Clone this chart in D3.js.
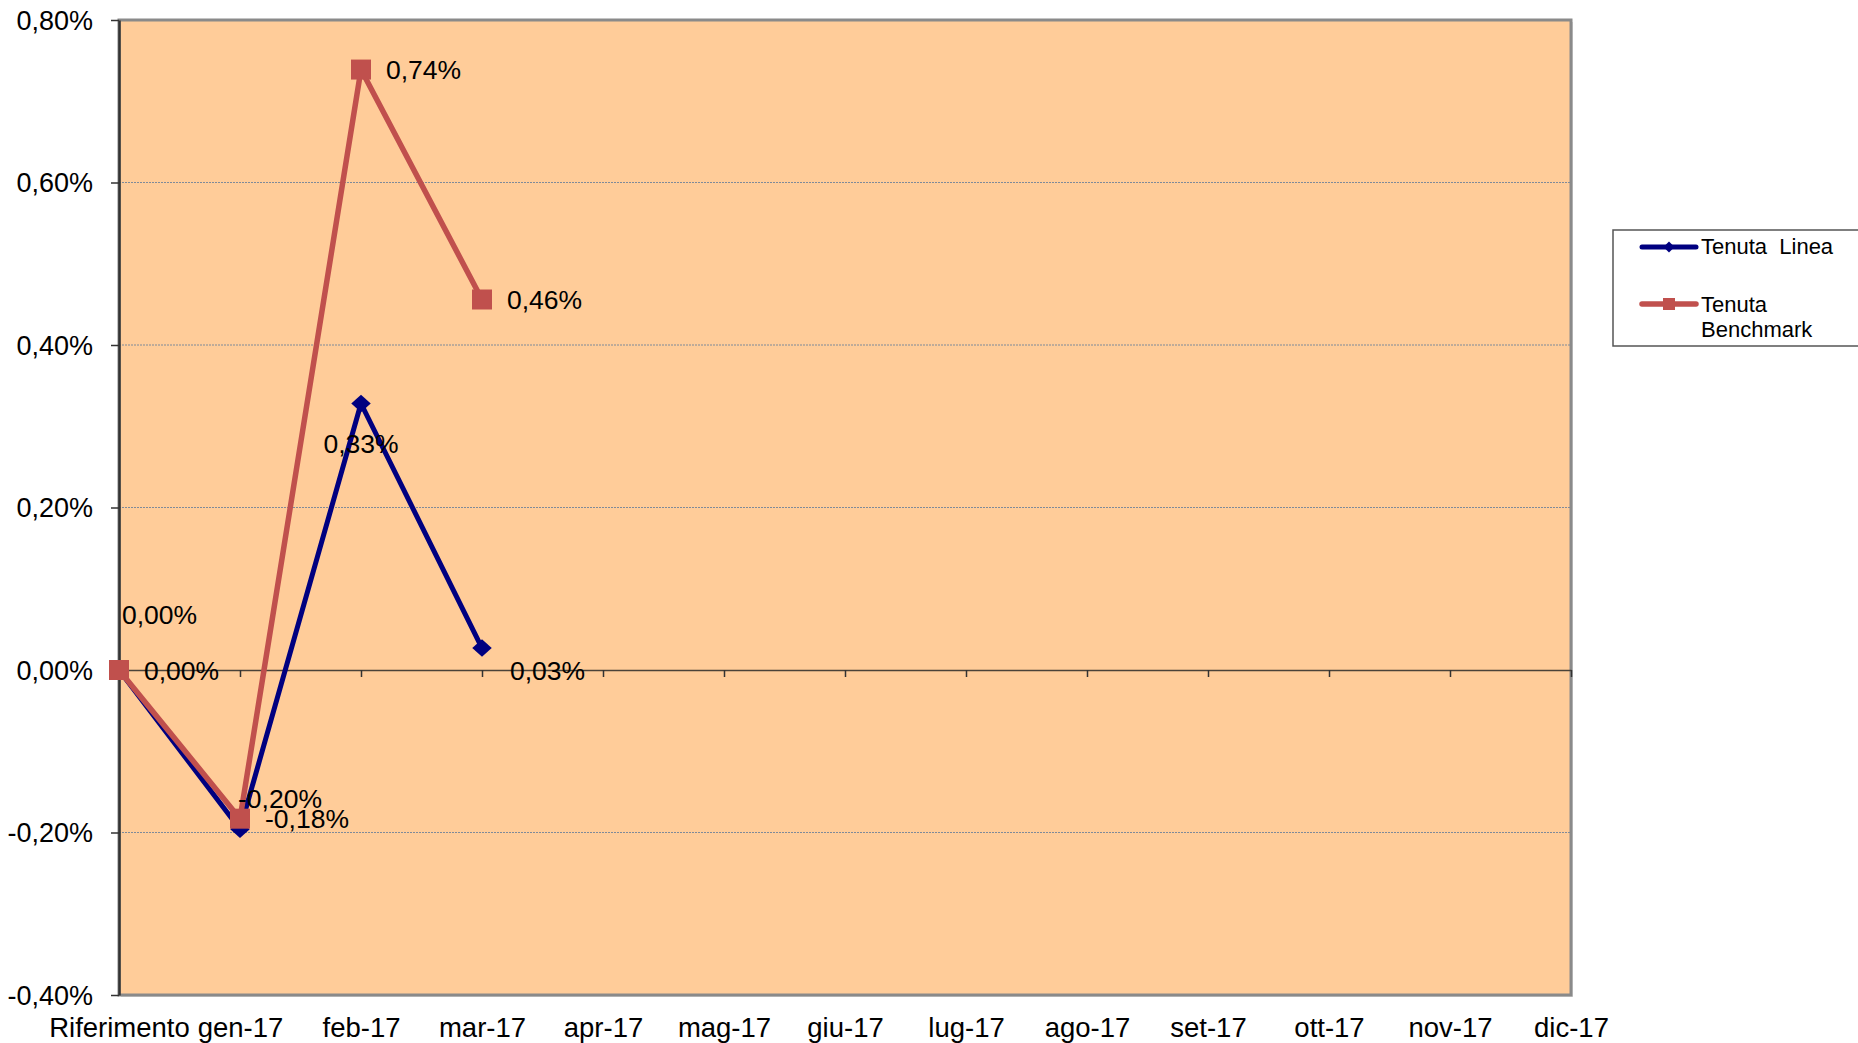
<!DOCTYPE html>
<html>
<head>
<meta charset="utf-8">
<script src="https://cdn.jsdelivr.net/npm/d3@7"></script>
<style>
  html, body { margin: 0; padding: 0; background: #ffffff; }
  svg { display: block; }
  text { font-family: "Liberation Sans", Arial, sans-serif; fill: #000; }
</style>
</head>
<body>
<svg id="chart" width="1858" height="1043"></svg>
<script>
// ---- data ----
const categories = ["Riferimento", "gen-17", "feb-17", "mar-17", "apr-17", "mag-17", "giu-17",
                    "lug-17", "ago-17", "set-17", "ott-17", "nov-17", "dic-17"];
const lineaName = "Tenuta  Linea";
const benchName = ["Tenuta", "Benchmark"];
const lineaValues = [0.000, -0.196, 0.328, 0.027];
const benchValues = [0.000, -0.183, 0.739, 0.456];
const yTicks = [-0.4, -0.2, 0.0, 0.2, 0.4, 0.6, 0.8];

// ---- label placement (style, not data) ----
const lineaLabelPos = [
  { dx: 3, dy: -56, anchor: "start" },
  { dx: -2, dy: -31, anchor: "start" },
  { dx: 0, dy: 40, anchor: "middle" },
  { dx: 28, dy: 22, anchor: "start" }
];
const benchLabelPos = { dx: 25, dy: 0, anchor: "start" };

const fmt = v => v.toFixed(2).replace(".", ",") + "%";

const svg = d3.select("#chart");
const pLeft = 119, pRight = 1571, pTop = 20, pBottom = 995;

const x = d3.scalePoint().domain(categories).range([pLeft, pRight]);
const y = d3.scaleLinear().domain([-0.4, 0.8]).range([pBottom, pTop]);

// plot background & frame
svg.append("rect")
  .attr("x", pLeft + 2).attr("y", pTop + 2)
  .attr("width", pRight - pLeft).attr("height", pBottom - pTop)
  .attr("fill", "#d9d9d9");
svg.append("rect")
  .attr("x", pLeft).attr("y", pTop)
  .attr("width", pRight - pLeft).attr("height", pBottom - pTop)
  .attr("fill", "#FFCC99")
  .attr("stroke", "#8a8a8a").attr("stroke-width", 3);

// gridlines
svg.append("g").selectAll("line")
  .data(yTicks.filter(t => t !== 0 && t !== 0.8 && t !== -0.4))
  .join("line")
  .attr("x1", pLeft).attr("x2", pRight)
  .attr("y1", d => y(d)).attr("y2", d => y(d))
  .attr("stroke", "#7f8a99").attr("stroke-width", 1)
  .attr("stroke-dasharray", "2,1");

// y axis
const yAxis = svg.append("g")
  .attr("transform", `translate(${pLeft},0)`)
  .call(d3.axisLeft(y).tickValues(yTicks).tickSize(8).tickSizeOuter(0).tickPadding(18).tickFormat(fmt));
yAxis.select(".domain").attr("stroke", "#333").attr("stroke-width", 2.5);
yAxis.selectAll(".tick line").attr("stroke", "#333").attr("stroke-width", 1.5);
yAxis.selectAll(".tick text")
  .attr("font-size", 27).attr("font-family", "Liberation Sans, Arial, sans-serif")
  .attr("fill", "#000").attr("dy", "0.35em");

// x axis ticks on the zero line
const xZero = svg.append("g")
  .attr("transform", `translate(0,${y(0)})`)
  .call(d3.axisBottom(x).tickSize(7).tickSizeOuter(0).tickFormat(""));
xZero.select(".domain").attr("stroke", "#4a4238").attr("stroke-width", 1.5);
xZero.selectAll(".tick line").attr("stroke", "#333").attr("stroke-width", 1.5);

// x axis labels at bottom
const xLab = svg.append("g")
  .attr("transform", `translate(0,${pBottom})`)
  .call(d3.axisBottom(x).tickSize(0).tickPadding(22).tickSizeOuter(0));
xLab.select(".domain").remove();
xLab.selectAll(".tick text")
  .attr("font-size", 27.5).attr("font-family", "Liberation Sans, Arial, sans-serif")
  .attr("fill", "#000");

// lines
const line = d3.line().x((d, i) => x(categories[i])).y(d => y(d));

svg.append("path").datum(lineaValues)
  .attr("d", line).attr("fill", "none")
  .attr("stroke", "#000080").attr("stroke-width", 5).attr("stroke-linejoin", "round");

svg.append("g").selectAll("path")
  .data(lineaValues).join("path")
  .attr("d", d3.symbol(d3.symbolSquare, 190))
  .attr("transform", (d, i) => `translate(${x(categories[i])},${y(d)}) scale(1,0.9) rotate(45)`)
  .attr("fill", "#000080");

svg.append("path").datum(benchValues)
  .attr("d", line).attr("fill", "none")
  .attr("stroke", "#C0504D").attr("stroke-width", 5.5).attr("stroke-linejoin", "round");

svg.append("g").selectAll("path")
  .data(benchValues).join("path")
  .attr("d", d3.symbol(d3.symbolSquare, 400))
  .attr("transform", (d, i) => `translate(${x(categories[i])},${y(d)})`)
  .attr("fill", "#C0504D");

// data labels
svg.append("g").selectAll("text")
  .data(lineaValues).join("text")
  .attr("x", (d, i) => x(categories[i]) + lineaLabelPos[i].dx)
  .attr("y", (d, i) => y(d) + lineaLabelPos[i].dy + 9.5)
  .attr("text-anchor", (d, i) => lineaLabelPos[i].anchor)
  .attr("font-size", 26.5)
  .text(fmt);

svg.append("g").selectAll("text")
  .data(benchValues).join("text")
  .attr("x", (d, i) => x(categories[i]) + benchLabelPos.dx)
  .attr("y", d => y(d) + benchLabelPos.dy + 9.5)
  .attr("text-anchor", benchLabelPos.anchor)
  .attr("font-size", 26.5)
  .text(fmt);

// legend
const lg = svg.append("g");
lg.append("rect")
  .attr("x", 1613).attr("y", 230).attr("width", 260).attr("height", 116)
  .attr("fill", "#fff").attr("stroke", "#555").attr("stroke-width", 1.5);
lg.append("line").attr("x1", 1642).attr("x2", 1696).attr("y1", 247).attr("y2", 247)
  .attr("stroke", "#000080").attr("stroke-width", 5).attr("stroke-linecap", "round");
lg.append("path").attr("d", d3.symbol(d3.symbolSquare, 60))
  .attr("transform", "translate(1669,247) rotate(45)").attr("fill", "#000080");
lg.append("text").attr("x", 1701).attr("y", 254).attr("font-size", 22)
  .attr("xml:space", "preserve").style("white-space", "pre").text(lineaName);
lg.append("line").attr("x1", 1642).attr("x2", 1696).attr("y1", 304).attr("y2", 304)
  .attr("stroke", "#C0504D").attr("stroke-width", 5.5).attr("stroke-linecap", "round");
lg.append("path").attr("d", d3.symbol(d3.symbolSquare, 144))
  .attr("transform", "translate(1669,304)").attr("fill", "#C0504D");
lg.append("text").attr("x", 1701).attr("y", 312).attr("font-size", 22).text(benchName[0]);
lg.append("text").attr("x", 1701).attr("y", 337).attr("font-size", 22).text(benchName[1]);
</script>
</body>
</html>
